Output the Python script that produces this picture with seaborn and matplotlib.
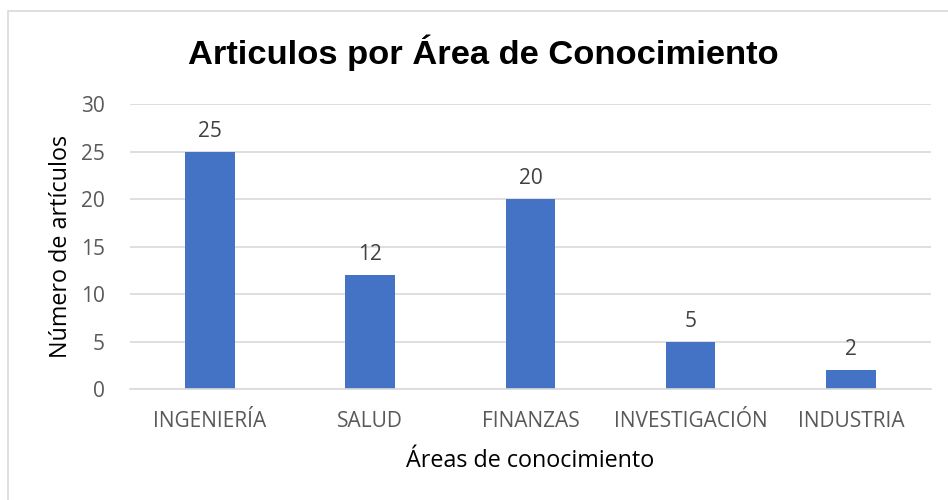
import matplotlib
matplotlib.use("Agg")
import matplotlib.pyplot as plt
import seaborn as sns
import pandas as pd
from matplotlib.patches import Rectangle

# Data
areas = ["INGENIERÍA", "SALUD", "FINANZAS", "INVESTIGACIÓN", "INDUSTRIA"]
articulos = [25, 12, 20, 5, 2]

df = pd.DataFrame({"area": areas, "articulos": articulos})

sns.set_theme(style="white")
plt.rcParams["font.family"] = ["Open Sans", "DejaVu Sans"]

fig = plt.figure(figsize=(9.48, 5.0), dpi=100)
ax = fig.add_axes([0.137, 0.222, 0.845, 0.570])

sns.barplot(data=df, x="area", y="articulos", color="#4472C4",
            width=0.31, saturation=1, linewidth=0, ax=ax)

ax.set_ylim(0, 30)
ax.set_yticks(range(0, 31, 5))
ax.set_xlim(-0.5, len(areas) - 0.5)
ax.yaxis.grid(True, color="#D9D9D9", linewidth=1.2)
ax.set_axisbelow(True)
for s in ["top", "right", "left"]:
    ax.spines[s].set_visible(False)
ax.spines["bottom"].set_color("#D9D9D9")
ax.spines["bottom"].set_linewidth(1.2)

ax.tick_params(axis="both", length=0, labelsize=15, labelcolor="#595959")
ax.tick_params(axis="x", pad=16)
ax.tick_params(axis="y", pad=18)

for c in ax.containers:
    ax.bar_label(c, fontsize=15, color="#404040", padding=7)

ax.set_xlabel("Áreas de conocimiento", fontsize=16.8, color="black", labelpad=12)
ax.set_ylabel("Número de artículos", fontsize=16.8, color="black", labelpad=6)

fig.text(0.51, 0.895, "Articulos por Área de Conocimiento", ha="center", va="center",
         fontsize=24.8, fontweight="bold", color="black",
         family=["Liberation Sans", "DejaVu Sans"])

fig.patches.append(Rectangle((8 / 948, -0.05), 1.1, 1 - 11 / 500 + 0.05,
                             transform=fig.transFigure, fill=False,
                             edgecolor="#D9D9D9", linewidth=1.2))

fig.savefig("out.png", dpi=100)
